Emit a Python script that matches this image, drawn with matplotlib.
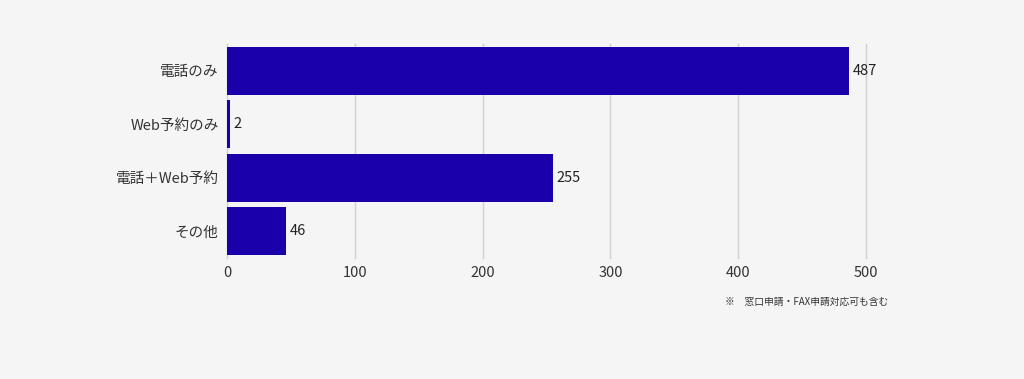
import matplotlib
matplotlib.use('Agg')
import matplotlib.pyplot as plt

plt.rcParams['font.family'] = ['Noto Sans CJK JP', 'DejaVu Sans']

# data
categories = ['電話のみ', 'Web予約のみ', '電話＋Web予約', 'その他']
counts = [487, 2, 255, 46]
x_ticks = [0, 100, 200, 300, 400, 500]
note = '※　窓口申請・FAX申請対応可も含む'

BG = '#f5f5f5'
BAR = '#1a00aa'

fig = plt.figure(figsize=(10.24, 3.79), dpi=100, facecolor=BG)
ax = fig.add_axes([0.2217, 0.319, 0.6240, 0.565], facecolor=BG)

pos = list(range(len(categories)))
ax.barh(pos, counts, height=0.9, color=BAR, zorder=3)
for p, v in zip(pos, counts):
    ax.text(v + 3, p, str(v), va='center', ha='left', fontsize=10.5, color='#222222', zorder=4)

ax.set_ylim(len(categories) - 0.5, -0.5)
ax.set_yticks(pos)
ax.set_yticklabels(categories, fontsize=10.5, color='#333333')
ax.set_xlim(0, 500)
ax.set_xticks(x_ticks)
ax.set_xticklabels([str(t) for t in x_ticks], fontsize=10.5, color='#333333')
ax.tick_params(length=0, pad=6)
ax.grid(axis='x', color='#d0d0d0', linewidth=1, zorder=0)
for gl in ax.get_xgridlines():
    gl.set_clip_on(False)
for s in ax.spines.values():
    s.set_visible(False)

fig.text(0.867, 0.203, note, ha='right', va='center', fontsize=7, color='#333333')

fig.savefig('out.png', dpi=100, facecolor=BG)
